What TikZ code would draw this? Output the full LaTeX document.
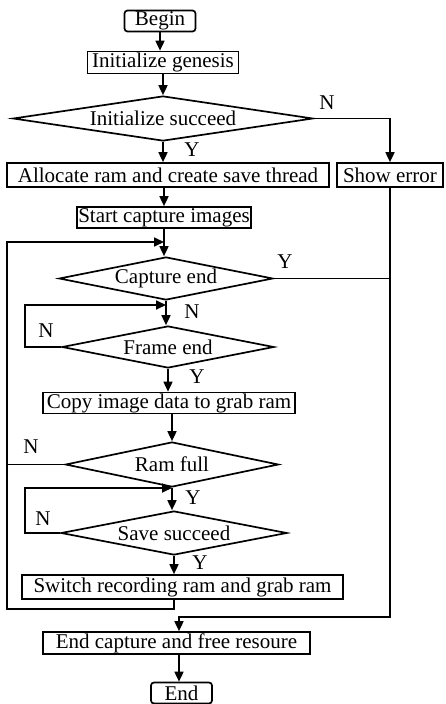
\documentclass[tikz,border=0pt]{standalone}
\usepackage{fontspec}
\setmainfont{Liberation Serif}
\usetikzlibrary{shapes.geometric,arrows.meta}
\begin{document}
\begin{tikzpicture}[x=1pt,y=-1pt,
  every node/.style={font=\fontsize{21}{23}\selectfont, inner sep=0pt},
  box/.style={draw, line width=1.7pt, minimum height=22pt},
  term/.style={box, rounded corners=3pt},
  dec/.style={diamond, draw, line width=1.7pt},
  conn/.style={line width=1.7pt},
  arr/.style={conn, -{Triangle[length=10pt,width=9pt]}},
  lab/.style={font=\fontsize{21}{23}\selectfont}
]
\useasboundingbox (0,0) rectangle (445,704);

% nodes
\node[term, minimum width=71pt, minimum height=21pt] (begin) at (160,21) {Begin};
\node[box, minimum width=151pt] (initg) at (163,62.5) {Initialize genesis};
\node[dec, minimum width=300pt, minimum height=45pt, shape aspect=6.67] (d1) at (163,118.5) {Initialize succeed};
\node[box, minimum width=322pt, minimum height=24pt] (alloc) at (168,175) {Allocate ram and create save thread};
\node[box, minimum width=106pt, minimum height=24pt] (err) at (390,175) {Show error};
\node[box, minimum width=174pt, minimum height=21pt] (start) at (164,217.5) {Start capture images};
\node[dec, minimum width=214pt, minimum height=43pt, shape aspect=5] (d2) at (166,278.5) {Capture end};
\node[dec, minimum width=212pt, minimum height=42pt, shape aspect=5.05] (d3) at (168,347) {Frame end};
\node[box, minimum width=252pt, minimum height=21pt] (copy) at (169,403) {Copy image data to grab ram};
\node[dec, minimum width=213pt, minimum height=45pt, shape aspect=4.7] (d4) at (172,464.5) {Ram full};
\node[dec, minimum width=226pt, minimum height=44pt, shape aspect=5.14] (d5) at (174,533) {Save succeed};
\node[box, minimum width=321pt, minimum height=24pt] (switch) at (182.5,587) {Switch recording ram and grab ram};
\node[box, minimum width=267pt, minimum height=22pt] (endcap) at (176.5,643) {End capture and free resoure};
\node[term, minimum width=61pt, minimum height=21pt] (end) at (181.5,693) {End};

% labels
\node[lab] (n1) at (327,103) {N};
\node[lab] (y1) at (192,150) {Y};
\node[lab] (y2) at (285,262) {Y};
\node[lab] (n2) at (192,312) {N};
\node[lab] (n3) at (46,331) {N};
\node[lab] (y3) at (197,377) {Y};
\node[lab] (n4) at (31,447) {N};
\node[lab] (y4) at (193,498) {Y};
\node[lab] (n5) at (43,519) {N};
\node[lab] (y5) at (200,563) {Y};

% helper coordinates
\coordinate (ol) at (7,609);
\coordinate (ot) at (7,242);
\coordinate (l2) at (25,305);
\coordinate (l3) at (25,488);
\coordinate (rj) at (179,617);

% connectors
\draw[arr] (begin.south) -- (begin.south |- initg.north);
\draw[arr] (initg.south) -- (initg.south |- d1.north);
\draw[arr] (d1.south) -- (d1.south |- alloc.north);
\draw[arr] (d1.east) -| (err.north);
\draw[arr] (start.north |- alloc.south) -- (start.north);
\draw[arr] (start.south) -- (start.south |- d2.north);
\draw[arr] (d5.south |- switch.south) -- (d5.south |- ol) -- (ol) -- (ot) -- (ot -| start.south);
\draw[conn] (d2.east) -- (d2.east -| err.south);
\draw[arr] (err.south) |- (rj) -- (rj |- endcap.north);
\draw[arr] (d2.south) -- (d2.south |- d3.north);
\draw[arr] (d3.west) -| (l2) -- (l2 -| d2.south);
\draw[arr] (d3.south) -- (d3.south |- copy.north);
\draw[arr] (d4.north |- copy.south) -- (d4.north);
\draw[conn] (d4.west) -- (d4.west -| ol);
\draw[arr] (d5.west) -| (l3) -- (l3 -| d4.south);
\draw[arr] (d4.south) -- (d4.south |- d5.north);
\draw[arr] (d5.south) -- (d5.south |- switch.north);
\draw[arr] (rj |- endcap.south) -- (rj |- end.north);
\end{tikzpicture}
\end{document}
